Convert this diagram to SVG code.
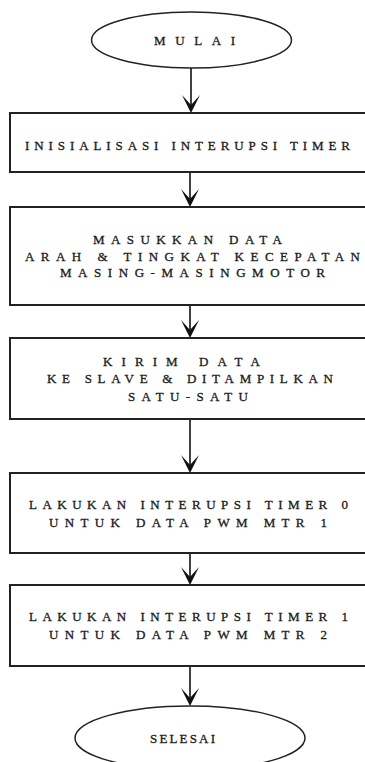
<svg xmlns="http://www.w3.org/2000/svg" width="365" height="762" viewBox="0 0 365 762">
  <style>
    .bg { fill: #ffffff; }
    .box { fill: #ffffff; stroke: #222222; stroke-width: 2; }
    .term { fill: #ffffff; stroke: #222222; stroke-width: 1.5; }
    .lbl { font-family: "Liberation Serif", "DejaVu Serif", serif; font-size: 13px; fill: #1a1a1a; stroke: #1a1a1a; stroke-width: 0.3; text-anchor: start; }
    .wire { stroke: #111111; stroke-width: 1.6; fill: none; }
    .head { fill: #111111; }
  </style>
  <defs>
    <!-- notched arrowhead, tip at (0,0) -->
    <path id="ah" class="head" d="M-9,-18 L0,-8 L9,-18 L0,0 Z"/>
  </defs>
  <rect class="bg" x="0" y="0" width="365" height="762"/>

  <g id="connectors">
    <line class="wire" x1="191" y1="68" x2="191" y2="110"/>
    <use href="#ah" x="191" y="113"/>
    <line class="wire" x1="190" y1="173" x2="190" y2="204"/>
    <use href="#ah" x="190" y="207"/>
    <line class="wire" x1="190" y1="306" x2="190" y2="335"/>
    <use href="#ah" x="190" y="338"/>
    <line class="wire" x1="190" y1="420" x2="190" y2="470"/>
    <use href="#ah" x="190" y="473"/>
    <line class="wire" x1="190" y1="554" x2="190" y2="582"/>
    <use href="#ah" x="190" y="585"/>
    <line class="wire" x1="190" y1="667" x2="190" y2="703"/>
    <use href="#ah" x="190" y="706"/>
  </g>

  <g id="mulai">
    <ellipse class="term" cx="191.5" cy="40" rx="100" ry="28"/>
    <text class="lbl" x="154" y="45" textLength="81" lengthAdjust="spacing">MULAI</text>
  </g>

  <g id="inisialisasi">
    <rect class="box" x="10" y="113" width="362" height="59"/>
    <text class="lbl" x="25" y="150" textLength="325" lengthAdjust="spacing">INISIALISASI INTERUPSI TIMER</text>
  </g>

  <g id="masukkan-data">
    <rect class="box" x="10" y="207" width="362" height="98"/>
    <text class="lbl" x="93" y="244" textLength="189" lengthAdjust="spacing">MASUKKAN DATA</text>
    <text class="lbl" x="25" y="261" textLength="335" lengthAdjust="spacing">ARAH  &amp;  TINGKAT KECEPATAN</text>
    <text class="lbl" x="60" y="277" textLength="265" lengthAdjust="spacing">MASING-MASINGMOTOR</text>
  </g>

  <g id="kirim-data">
    <rect class="box" x="10" y="338" width="362" height="81"/>
    <text class="lbl" x="103" y="366" textLength="157" lengthAdjust="spacing">KIRIM DATA</text>
    <text class="lbl" x="47" y="383" textLength="286" lengthAdjust="spacing">KE SLAVE &amp; DITAMPILKAN</text>
    <text class="lbl" x="128" y="401" textLength="120" lengthAdjust="spacing">SATU-SATU</text>
  </g>

  <g id="interupsi-timer0">
    <rect class="box" x="10" y="473" width="362" height="80"/>
    <text class="lbl" x="29" y="509" textLength="319" lengthAdjust="spacing">LAKUKAN INTERUPSI TIMER 0</text>
    <text class="lbl" x="49" y="527" textLength="278" lengthAdjust="spacing">UNTUK DATA PWM MTR 1</text>
  </g>

  <g id="interupsi-timer1">
    <rect class="box" x="10" y="585" width="362" height="81"/>
    <text class="lbl" x="29" y="621" textLength="319" lengthAdjust="spacing">LAKUKAN INTERUPSI TIMER 1</text>
    <text class="lbl" x="49" y="639" textLength="278" lengthAdjust="spacing">UNTUK DATA PWM MTR 2</text>
  </g>

  <g id="selesai">
    <ellipse class="term" cx="190" cy="738" rx="115" ry="32"/>
    <text class="lbl" x="150" y="743" textLength="65" lengthAdjust="spacing">SELESAI</text>
  </g>
</svg>
